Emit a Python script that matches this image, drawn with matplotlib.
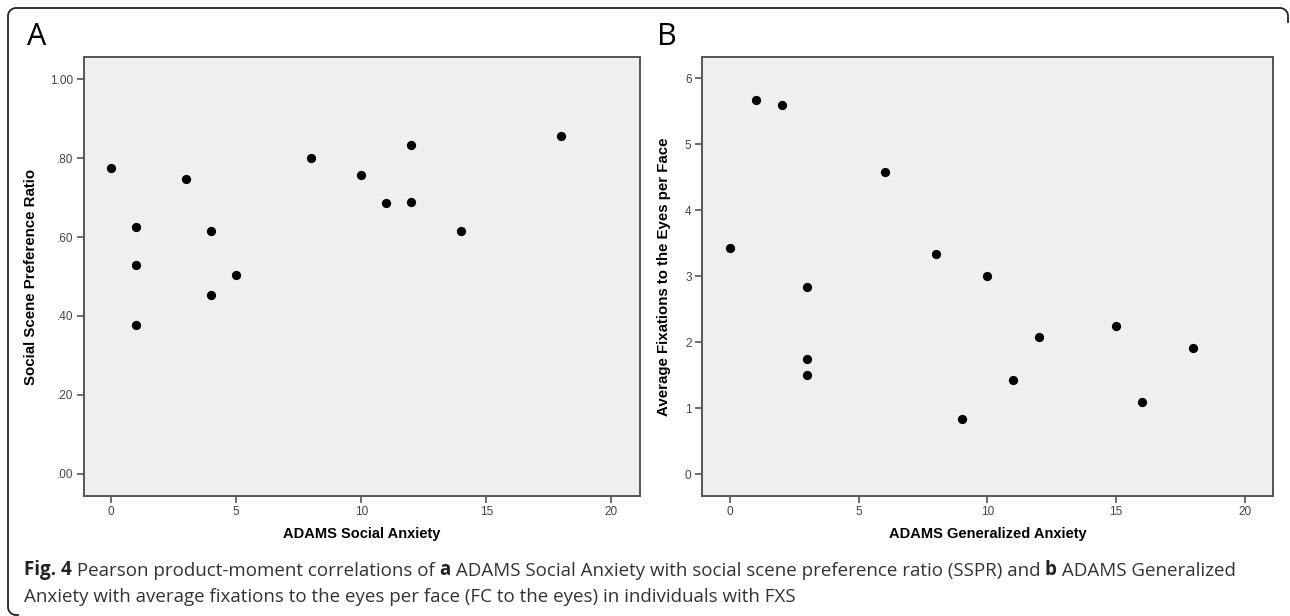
import numpy as np
import matplotlib.pyplot as plt
from matplotlib.lines import Line2D

# Panel A: ADAMS Social Anxiety vs social scene preference ratio
social_anxiety = [0, 1, 1, 1, 3, 4, 4, 5, 8, 10, 11, 12, 12, 14, 18]
sspr = [0.775, 0.625, 0.528, 0.376, 0.748, 0.614, 0.452, 0.505,
        0.799, 0.758, 0.687, 0.834, 0.688, 0.616, 0.857]

# Panel B: ADAMS Generalized Anxiety vs average fixations to the eyes
gen_anxiety = [0, 1, 2, 3, 3, 3, 6, 8, 9, 10, 11, 12, 15, 16, 18]
fixations = [3.42, 5.67, 5.59, 2.83, 1.75, 1.50, 4.58, 3.33,
             0.83, 3.00, 1.42, 2.08, 2.25, 1.09, 1.91]

x_ticks = [0, 5, 10, 15, 20]
sspr_ticks = [0, 0.2, 0.4, 0.6, 0.8, 1.0]
sspr_labels = ['.00', '.20', '.40', '.60', '.80', '1.00']
fix_ticks = [0, 1, 2, 3, 4, 5, 6]

W, H = 1290, 616
fig = plt.figure(figsize=(W / 100, H / 100), dpi=100)
sans = ['Liberation Sans', 'DejaVu Sans']
narrow = ['Liberation Sans Narrow', 'Liberation Sans', 'DejaVu Sans']
cap_font = ['Open Sans', 'DejaVu Sans']


def px(x, y):
    # pixel position (from top-left) to figure fraction
    return x / W, 1 - y / H


# outer frame: left and top edges with rounded corners
r = 8
t = np.linspace(0, np.pi / 2, 12)
fx = list(8 + r - r * np.sin(t))                 # bottom-left corner
fy = list(615 - r + r * np.cos(t))
fx += list(8 + r - r * np.cos(t))                # top-left corner
fy += list(8 + r - r * np.sin(t))
fx += list(1288 - r + r * np.sin(t))             # top-right corner
fy += list(8 + r - r * np.cos(t))
fx += [1288]
fy += [22]
fx = [18] + fx
fy = [615] + fy
pts = [px(a, b) for a, b in zip(fx, fy)]
fig.add_artist(Line2D([p[0] for p in pts], [p[1] for p in pts],
                      transform=fig.transFigure, color='#222222', linewidth=1.3))


def style_axes(ax):
    ax.set_facecolor('#efefef')
    for s in ax.spines.values():
        s.set_color('#555555')
        s.set_linewidth(1.4)
    ax.tick_params(axis='both', colors='#555555', labelcolor='#444444',
                   labelsize=8.5, length=5, width=1.2, pad=2.5)
    for lab in ax.get_xticklabels() + ax.get_yticklabels():
        lab.set_family(narrow)


# panel A
axA = fig.add_axes([84 / W, 1 - 496 / H, (640 - 84) / W, 439 / H])
axA.scatter(social_anxiety, sspr, s=32, color='black', zorder=3)
axA.set_xlim(-1.09, 21.15)
axA.set_ylim(-0.056, 1.056)
axA.set_xticks(x_ticks)
axA.set_yticks(sspr_ticks)
axA.set_yticklabels(sspr_labels)
style_axes(axA)
axA.set_xlabel('ADAMS Social Anxiety', fontsize=10.5, fontweight='bold', family=sans)
axA.xaxis.set_label_coords(0.5, -31 / 439)
axA.set_ylabel('Social Scene Preference Ratio', fontsize=10.8, fontweight='bold', family=sans)
axA.yaxis.set_label_coords(-46 / 556, 0.5)

# panel B
axB = fig.add_axes([702 / W, 1 - 496 / H, (1273 - 702) / W, 439 / H])
axB.scatter(gen_anxiety, fixations, s=32, color='black', zorder=3)
axB.set_xlim(-1.1, 21.1)
axB.set_ylim(-0.33, 6.32)
axB.set_xticks(x_ticks)
axB.set_yticks(fix_ticks)
style_axes(axB)
axB.set_xlabel('ADAMS Generalized Anxiety', fontsize=10.5, fontweight='bold', family=sans)
axB.xaxis.set_label_coords(0.5, -31 / 439)
axB.set_ylabel('Average Fixations to the Eyes per Face', fontsize=10.8,
               fontweight='bold', family=sans)
axB.yaxis.set_label_coords(-31 / 571, 0.5)

# panel letters
fig.text(*px(27, 37), 'A', fontsize=22, family=cap_font, va='center')
fig.text(*px(657, 37), 'B', fontsize=22, family=cap_font, va='center')

# caption, built from bold and regular pieces
cap1 = [('Fig. 4', 'bold'), (' Pearson product-moment correlations of ', 'normal'),
        ('a', 'bold'), (' ADAMS Social Anxiety with social scene preference ratio (SSPR) and ', 'normal'),
        ('b', 'bold'), (' ADAMS Generalized', 'normal')]
cap2 = 'Anxiety with average fixations to the eyes per face (FC to the eyes) in individuals with FXS'
cap_size = 13.5
anchor = fig.text(*px(24, 575), cap1[0][0], fontsize=cap_size, family=cap_font,
                  fontweight='bold', color='#222222', va='baseline')
for txt, wt in cap1[1:]:
    anchor = fig.add_artist(plt.Annotation(txt, xy=(1, 0), xycoords=anchor,
                                           va='bottom', ha='left', fontsize=cap_size,
                                           family=cap_font, fontweight=wt,
                                           color='#222222' if wt == 'bold' else '#333333'))
fig.text(*px(24, 602), cap2, fontsize=cap_size, family=cap_font,
         color='#333333', va='baseline')

fig.savefig('out.png', dpi=100)
